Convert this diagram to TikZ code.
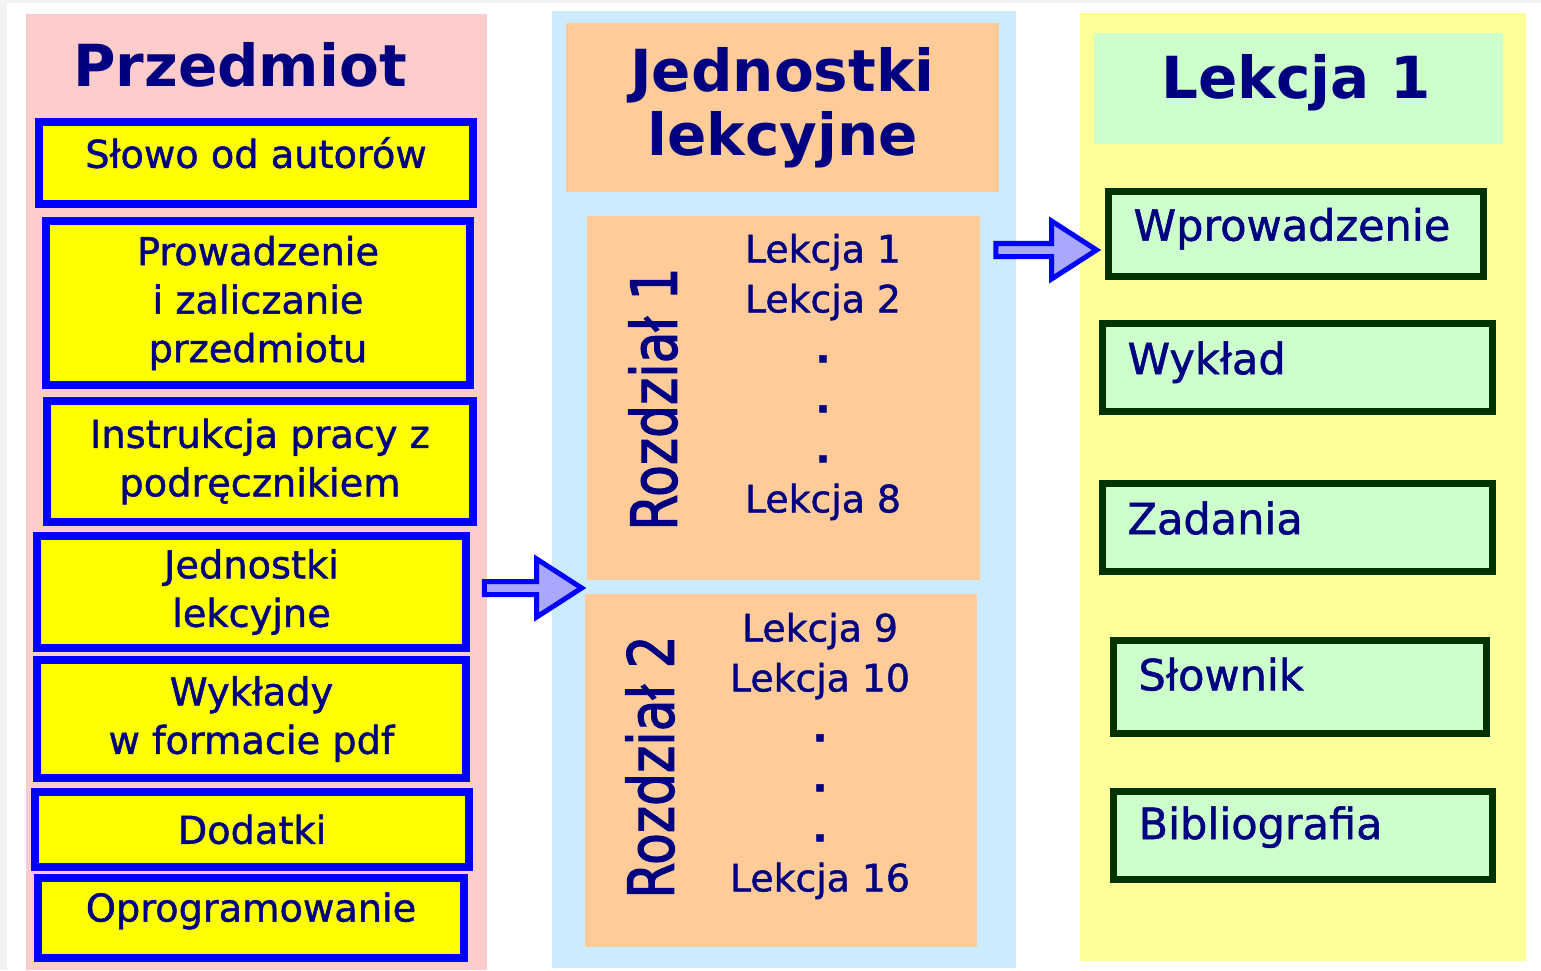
\documentclass[tikz,border=0pt]{standalone}
\usepackage{fontspec}
\usepackage{graphicx}
\setmainfont{DejaVu Sans}
\newfontfamily\thickfont[FakeBold=1.2]{DejaVu Sans}
\newfontfamily\heavyfont[FakeBold=2.2]{DejaVu Sans}
\usetikzlibrary{calc,positioning}

\definecolor{navytext}{HTML}{000080}
\definecolor{edgegray}{HTML}{F2F2F2}
\definecolor{pinkpanel}{HTML}{FFCCCC}
\definecolor{bluepanel}{HTML}{CCEBFF}
\definecolor{yellowpanel}{HTML}{FFFF99}
\definecolor{orangebox}{HTML}{FFCC99}
\definecolor{mintgreen}{HTML}{CCFFCC}
\definecolor{itemyellow}{HTML}{FFFF00}
\definecolor{itemblue}{HTML}{0000FF}
\definecolor{darkgreen}{HTML}{003300}
\definecolor{arrowfill}{HTML}{A8A8FF}

\newcommand\itemfont{\thickfont\fontsize{21.8pt}{27.6pt}\selectfont}
\newcommand\listfont{\thickfont\fontsize{21.5pt}{28.45pt}\selectfont}
\newcommand\partfont{\thickfont\fontsize{24.5pt}{28pt}\selectfont}
\newcommand\headfont{\fontsize{33pt}{36.4pt}\selectfont\bfseries}
\newcommand\chapfont{\heavyfont\fontsize{36pt}{40pt}\selectfont}
\newcommand\gap{{\bfseries .}}

% fat arrow from #1 (tail) to #2 (tip), horizontal
\newcommand\blockarrow[2]{%
  \draw[blockarrow] let \p1=(#1), \p2=(#2) in
    (\x1,\y1+3.7pt) -- (\x2-25.6pt,\y1+3.7pt) -- (\x2-25.6pt,\y1+16.5pt)
    -- (\x2,\y1) -- (\x2-25.6pt,\y1-16.5pt) -- (\x2-25.6pt,\y1-3.7pt)
    -- (\x1,\y1-3.7pt) -- cycle;}

\begin{document}
\begin{tikzpicture}[x=0.02cm, y=-0.02cm,
    itembox/.style={draw=itemblue, line width=4.5pt, fill=itemyellow,
      text=navytext, font=\itemfont, align=center, inner sep=0pt},
    partbox/.style={draw=darkgreen, line width=4pt, fill=mintgreen,
      text=navytext, font=\partfont, align=left, inner xsep=0.5cm,
      inner ysep=0pt, text height=0.76em, text depth=0em},
    headtext/.style={text=navytext, font=\headfont, align=center},
    listtext/.style={text=navytext, font=\listfont, align=center},
    chaptext/.style={text=navytext, font=\chapfont, rotate=90},
    blockarrow/.style={draw=itemblue, line width=2.85pt, fill=arrowfill,
      line join=miter}]

    \useasboundingbox (0,0) rectangle (1541,970);
    \fill[edgegray] (0,0) rectangle (1541,970);
    \fill[white] (7,3) rectangle (1541,970);

    % columns
    \fill[pinkpanel] (26,14) rectangle (487,970);
    \fill[bluepanel] (552,11) rectangle (1016,968);
    \fill[yellowpanel] (1080,13) rectangle (1526,961);

    % Przedmiot
    \node[headtext] (przedmiot) at (240,65) {Przedmiot};
    \node[itembox, minimum width=8.68cm, minimum height=1.64cm, text height=0.8em, text depth=0.25em] (slowo) at (256,163) {Słowo od autorów};
    \node[itembox, minimum width=8.48cm, minimum height=3.28cm] (prow) at (258,303) {Prowadzenie\\i zaliczanie\\przedmiotu\vphantom{g}};
    \node[itembox, minimum width=8.52cm, minimum height=2.42cm] (instr) at (260,461.5) {Instrukcja pracy z\\podręcznikiem};
    \node[itembox, minimum width=8.58cm, minimum height=2.24cm] (jedn) at (251.5,592) {Jednostki\\lekcyjne\vphantom{\"A}};
    \node[itembox, minimum width=8.58cm, minimum height=2.36cm] (wykl) at (251.5,719) {Wykłady\\w formacie pdf};
    \node[itembox, minimum width=8.68cm, minimum height=1.5cm] (dodatki) at (252,829.5) {Dodatki};
    \node[itembox, minimum width=8.52cm, minimum height=1.6cm, text height=0.8em, text depth=0.4em] (oprog) at (251,918) {Oprogramowanie};

    % Jednostki lekcyjne
    \node[headtext, fill=orangebox, minimum width=8.66cm, minimum height=3.38cm] (jhead) at (782.5,107.5) {Jednostki\\lekcyjne};
    \node[fill=orangebox, minimum width=7.86cm, minimum height=7.28cm] (rozd1) at (783.5,398) {};
    \node[fill=orangebox, minimum width=7.84cm, minimum height=7.06cm] (rozd2) at (781,770.5) {};
    \node[chaptext] (chap1) at (653,399) {\scalebox{0.82}[1]{Rozdział 1}};
    \node[chaptext] (chap2) at (650,767) {\scalebox{0.82}[1]{Rozdział 2}};
    \node[listtext] (list1) at (823,377) {Lekcja 1\\Lekcja 2\\\gap\\\gap\\\gap\\Lekcja 8};
    \node[listtext] (list2) at (820,756) {Lekcja 9\\Lekcja 10\\\gap\\\gap\\\gap\\Lekcja 16};

    % Lekcja 1
    \node[fill=mintgreen, minimum width=8.18cm, minimum height=2.22cm] (lhead) at (1298.5,88.5) {};
    \node[headtext] (lekcja) at (1296,83) {Lekcja 1};
    \node[partbox, minimum width=7.5cm, text width=6.5cm, minimum height=1.7cm] (wprow) at (1296,234) {Wprowadzenie};
    \node[partbox, minimum width=7.8cm, text width=6.8cm, minimum height=1.76cm] (wyklad) at (1297.5,367.5) {Wykład};
    \node[partbox, minimum width=7.8cm, text width=6.8cm, minimum height=1.76cm] (zadania) at (1297.5,527.5) {Zadania};
    \node[partbox, minimum width=7.46cm, text width=6.46cm, minimum height=1.86cm, text depth=0.38em] (slownik) at (1300,687) {Słownik};
    \node[partbox, minimum width=7.58cm, text width=6.58cm, minimum height=1.76cm, text depth=0.36em] (biblio) at (1303,835.5) {Bibliografia};

    % arrows
    \coordinate (a1tail) at ($(jedn.east)+(14.5,-4)$);
    \coordinate (a1tip) at ($(rozd1.west |- a1tail)+(-5,0)$);
    \coordinate (a2tip) at ($(wprow.west)+(-8.5,16)$);
    \coordinate (a2tail) at ($(rozd1.east |- a2tip)+(15.5,0)$);
    \blockarrow{a1tail}{a1tip}
    \blockarrow{a2tail}{a2tip}
\end{tikzpicture}
\end{document}
